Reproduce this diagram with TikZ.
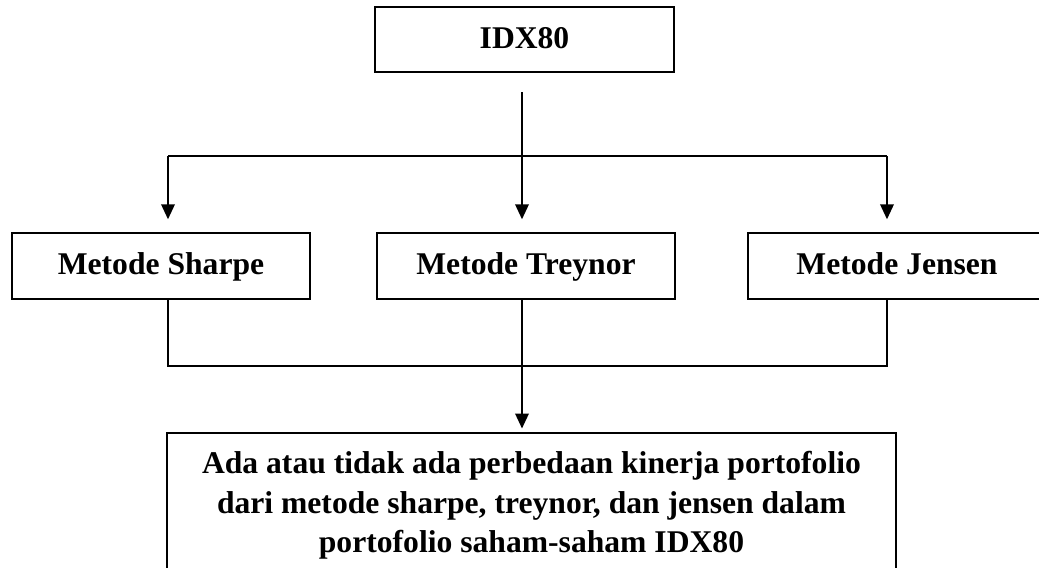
\documentclass[tikz,border=0pt]{standalone}
\usepackage{fontspec}
\setmainfont{Liberation Serif}
\usetikzlibrary{arrows.meta}

\begin{document}
\begin{tikzpicture}[x=0.02cm,y=-0.02cm,line width=1.1pt,
    kotak/.style={draw,inner sep=0pt,minimum height=1.31cm,text height=14pt,text depth=3.8pt,font=\bfseries\fontsize{18}{22.7}\selectfont},
    panah/.style={-{Triangle[length=0.3cm,width=0.27cm]},shorten >=0.26cm}]
  \useasboundingbox (0,0) rectangle (1039,568);

  \node[kotak,minimum width=5.98cm] (idx) at (524.5,39.5) {IDX80};
  \node[kotak,minimum width=5.96cm] (sharpe) at (161,266) {Metode Sharpe};
  \node[kotak,minimum width=5.96cm] (treynor) at (526,266) {Metode Treynor};
  \node[kotak,minimum width=5.96cm] (jensen) at (897,266) {Metode Jensen};
  \node[kotak,minimum width=14.58cm,text height=,text depth=,anchor=north,align=center,inner ysep=0.36cm] (hasil) at (531.5,432)
    {Ada atau tidak ada perbedaan kinerja portofolio\\ dari metode sharpe, treynor, dan jensen dalam\\ portofolio saham-saham IDX80};

  \coordinate (pusat) at (522,156);
  \coordinate (kiri) at (168,156);
  \coordinate (kanan) at (887,156);
  \coordinate (gabkiri) at (168,366); % garis gabungan di bawah metode
  \coordinate (gabkanan) at (887,366);
  \coordinate (gabtengah) at (522,366);

  \draw[panah,shorten <=0.38cm] (idx.south -| pusat) -- (pusat |- treynor.north);
  \draw (kiri) -- (kanan);
  \draw[panah] (kiri) -- (kiri |- sharpe.north);
  \draw[panah] (kanan) -- (kanan |- jensen.north);
  \draw (kiri |- sharpe.south) -- (gabkiri) -- (gabkanan) -- (kanan |- jensen.south);
  \draw[panah,shorten >=0.07cm] (gabtengah |- treynor.south) -- (gabtengah |- hasil.north);
\end{tikzpicture}
\end{document}
